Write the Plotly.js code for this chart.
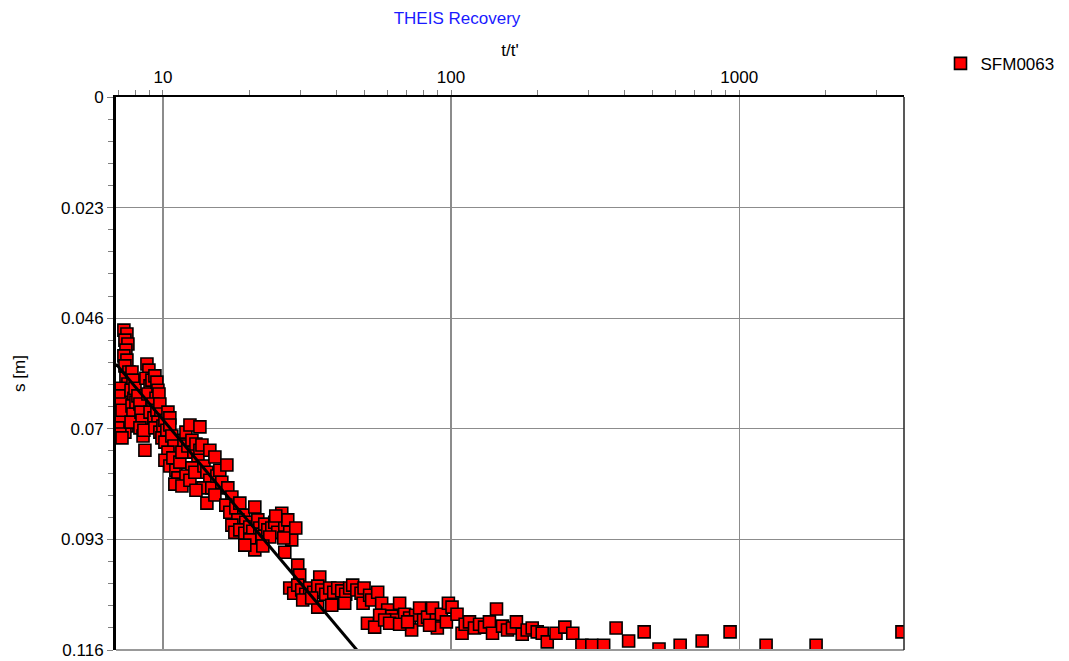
<!DOCTYPE html>
<html>
<head>
<meta charset="utf-8">
<script src="https://cdn.plot.ly/plotly-3.0.1.min.js"></script>
<style>html,body{margin:0;padding:0;background:#fff;}#chart{width:1069px;height:661px;}</style>
</head>
<body>
<div id="chart"></div>
<script>
// t/t' values (x) and drawdown s [m] (y) for SFM0063
const tRatio = [
 7.32,7.50,7.38,7.56,7.44,7.32,7.50,7.38,7.62,7.44,7.56,7.32,7.50,7.38,7.62,7.44,7.27,7.50,7.38,
 7.09,7.04,7.15,7.04,7.09,6.98,7.09,7.21,7.21,7.81,7.87,7.75,7.93,7.81,7.87,7.75,8.00,8.06,8.19,
 8.32,8.39,8.46,8.32,8.53,8.59,8.66,
 8.80,8.94,8.73,9.02,8.87,9.16,9.38,9.53,9.61,9.46,9.69,9.23,9.02,9.31,9.53,9.76,9.84,9.61,9.38,
 9.76,10.0,9.92,10.16,10.32,10.16,10.41,10.57,
 10.57,10.74,10.92,10.41,10.16,10.57,10.83,11.09,11.27,11.00,11.45,11.64,11.83,12.02,12.41,13.44,
 12.21,12.61,12.81,13.02,13.44,13.66,13.23,12.61,12.02,11.64,12.41,12.91,13.88,14.55,15.15,14.21,
 14.55,13.77,13.02,14.78,15.39,15.76,16.67,16.01,14.21,15.15,
 16.80,17.35,16.53,17.07,17.91,18.49,19.09,18.20,19.39,17.35,17.77,18.49,19.24,20.02,20.51,20.84,
 21.35,21.69,22.04,22.57,23.12,23.87,24.44,25.04,25.85,26.48,27.12,27.55,27.99,26.27,23.49,20.02,
 20.84,19.24,22.22,26.48,28.91,24.64,
 29.37,29.84,35.02,27.55,28.45,29.37,30.32,31.31,32.32,33.37,34.46,35.58,36.74,37.93,39.16,40.43,
 41.74,43.09,44.48,45.56,47.11,48.71,49.90,30.56,34.46,38.54,42.75,49.50,52.18,32.84,
 53.02,55.64,57.44,60.28,62.20,64.20,66.30,69.01,71.82,72.97,75.33,77.77,80.29,82.89,86.28,88.92,
 89.63,92.54,96.33,97.89,100.8,104.9,51.27,54.32,56.53,58.84,61.21,66.30,70.69,84.24,109.2,111.9,
 115.9,120.6,125.6,130.7,135.9,139.3,143.8,150.9,157.0,163.4,168.6,176.6,183.8,191.3,199.1,207.2,
 215.7,231.3,248.3,264.5,284.6,308.0,338.6,374.0,413.3,468.0,527.0,624.0,744.0,930.0,1240,1849,3672
];
const drawdown = [
 0.0489,0.0497,0.0510,0.0518,0.0531,0.0543,0.0552,0.0564,0.0577,0.0590,0.0602,0.0615,0.0627,0.0640,
 0.0652,0.0665,0.0678,0.0690,0.0703,
 0.0611,0.0627,0.0644,0.0661,0.0678,0.0694,0.0707,0.0715,0.0657,0.0577,0.0594,0.0615,0.0632,0.0648,
 0.0665,0.0682,0.0611,0.0640,0.0627,0.0644,0.0661,0.0678,0.0694,0.0711,0.0699,0.0741,
 0.0560,0.0573,0.0590,0.0606,0.0623,0.0594,0.0585,0.0598,0.0615,0.0632,0.0623,0.0644,0.0661,0.0673,
 0.0657,0.0644,0.0665,0.0682,0.0694,0.0703,0.0690,0.0715,0.0678,0.0699,0.0724,0.0661,0.0673,
 0.0688,0.0711,0.0732,0.0745,0.0762,0.0774,0.0757,0.0783,0.0799,0.0812,0.0766,0.0745,0.0720,0.0703,
 0.0688,0.0692,0.0732,0.0720,0.0745,0.0728,0.0741,0.0730,0.0762,0.0778,0.0795,0.0816,0.0804,0.0787,
 0.0774,0.0741,0.0755,0.0787,0.0804,0.0820,0.0825,0.0820,0.0795,0.0783,0.0772,0.0808,0.0852,0.0835,
 0.0820,0.0839,0.0856,0.0871,0.0862,0.0852,0.0877,0.0887,0.0892,0.0898,0.0913,0.0908,0.0915,0.0902,
 0.0911,0.0860,0.0887,0.0904,0.0917,0.0896,0.0908,0.0904,0.0892,0.0913,0.0873,0.0898,0.0887,0.0913,
 0.0929,0.0925,0.0923,0.0929,0.0950,0.0940,0.0942,0.0955,0.0904,0.0879,
 0.0982,0.1003,0.1007,0.1030,0.1041,0.1024,0.1034,0.1043,0.1030,0.1039,0.1026,0.1034,0.1043,0.1030,
 0.1039,0.1030,0.1036,0.1043,0.1030,0.1024,0.1034,0.1041,0.1030,0.1055,0.1070,0.1066,0.1062,0.1062,
 0.1045,0.1051,
 0.1055,0.1039,0.1062,0.1076,0.1089,0.1097,0.1062,0.1085,0.1093,0.1118,0.1087,0.1072,0.1097,0.1091,
 0.1072,0.1097,0.1114,0.1085,0.1101,0.1062,0.1070,0.1085,0.1104,0.1112,0.1087,0.1097,0.1104,0.1106,
 0.1101,0.1108,0.1125,0.1106,
 0.1101,0.1114,0.1106,0.1112,0.1101,0.1125,0.1074,0.1110,0.1118,0.1114,0.1101,0.1127,0.1118,0.1114,
 0.1122,0.1125,0.1143,0.1125,0.1112,0.1125,0.1150,0.1150,0.1150,0.1114,0.1141,0.1122,0.1158,0.1150,
 0.1141,0.1122,0.1150,0.1150,0.1122
];
// Straight-line (Cooper-Jacob) fit
const fitX = [6.873, 47.1];
const fitY = [0.0560, 0.116];

const yTickVals = [0, 0.0232, 0.0464, 0.0696, 0.0928, 0.116];
const yTickText = ['0', '0.023', '0.046', '0.07', '0.093', '0.116'];
const xTickVals = [10, 100, 1000];
const xTickText = ['10', '100', '1000'];
const xMinor = [7,8,9,20,30,40,50,60,70,80,90,200,300,400,500,600,700,800,900,2000,3000];

const FONT = '"Liberation Sans", Arial, sans-serif';
const FS = 17;

const traces = [
  {
    x: tRatio, y: drawdown, type: 'scatter', mode: 'markers', name: 'SFM0063',
    marker: {symbol: 'square', size: 12, color: '#ff0000', line: {color: '#000000', width: 1.6}},
    hoverinfo: 'skip'
  },
  {
    x: fitX, y: fitY, type: 'scatter', mode: 'lines', showlegend: false,
    line: {color: '#000000', width: 3}, hoverinfo: 'skip'
  }
];

const layout = {
  width: 1069, height: 661,
  paper_bgcolor: '#ffffff', plot_bgcolor: '#ffffff',
  margin: {l: 116, r: 164, t: 97, b: 11, pad: 0},
  font: {family: FONT, size: FS, color: '#000000'},
  title: {text: 'THEIS Recovery', font: {family: FONT, size: FS, color: '#1a1aff'},
          x: 457/1069, xanchor: 'center', xref: 'container', y: 1 - 18/661, yanchor: 'middle', yref: 'container'},
  showlegend: true,
  legend: {x: 1.045, xanchor: 'left', y: 1.06, yanchor: 'middle', font: {family: FONT, size: FS},
           bgcolor: 'rgba(0,0,0,0)', borderwidth: 0},
  xaxis: {
    type: 'log', side: 'top', range: [Math.log10(6.873), Math.log10(3733)], autorange: false,
    tickmode: 'array', tickvals: xTickVals, ticktext: xTickText,
    ticks: 'outside', ticklen: 5, tickcolor: '#808080', tickwidth: 1,
    showgrid: true, gridcolor: '#8c8c8c', gridwidth: 1.2,
    showline: true, linecolor: '#000000', linewidth: 2, mirror: false,
    zeroline: false,
    minor: {tickmode: 'array', tickvals: xMinor, ticks: 'outside', ticklen: 5, tickcolor: '#808080', tickwidth: 1, showgrid: false},
    title: {text: "t/t'", font: {family: FONT, size: FS}, standoff: 7},
    tickfont: {family: FONT, size: FS}
  },
  yaxis: {
    range: [0.116, 0], autorange: false,
    tickmode: 'array', tickvals: yTickVals, ticktext: yTickText,
    ticks: 'outside', ticklen: 6, tickcolor: '#808080', tickwidth: 1,
    showgrid: true, gridcolor: '#8c8c8c', gridwidth: 1.2,
    showline: true, linecolor: '#000000', linewidth: 3, mirror: false,
    zeroline: false,
    minor: {tickmode: 'linear', tick0: 0, dtick: 0.00464, ticks: 'outside', ticklen: 5, tickcolor: '#808080', tickwidth: 1, showgrid: false},
    title: {text: 's [m]', font: {family: FONT, size: FS}, standoff: 32},
    tickfont: {family: FONT, size: FS}
  },
  shapes: [
    {type: 'line', xref: 'paper', yref: 'paper', x0: 0, x1: 1, y0: 0, y1: 0, line: {color: '#999999', width: 2}},
    {type: 'line', xref: 'paper', yref: 'paper', x0: 1, x1: 1, y0: 0, y1: 1, line: {color: '#222222', width: 1.5}}
  ]
};

Plotly.newPlot('chart', traces, layout, {displayModeBar: false, staticPlot: true});
</script>
</body>
</html>
